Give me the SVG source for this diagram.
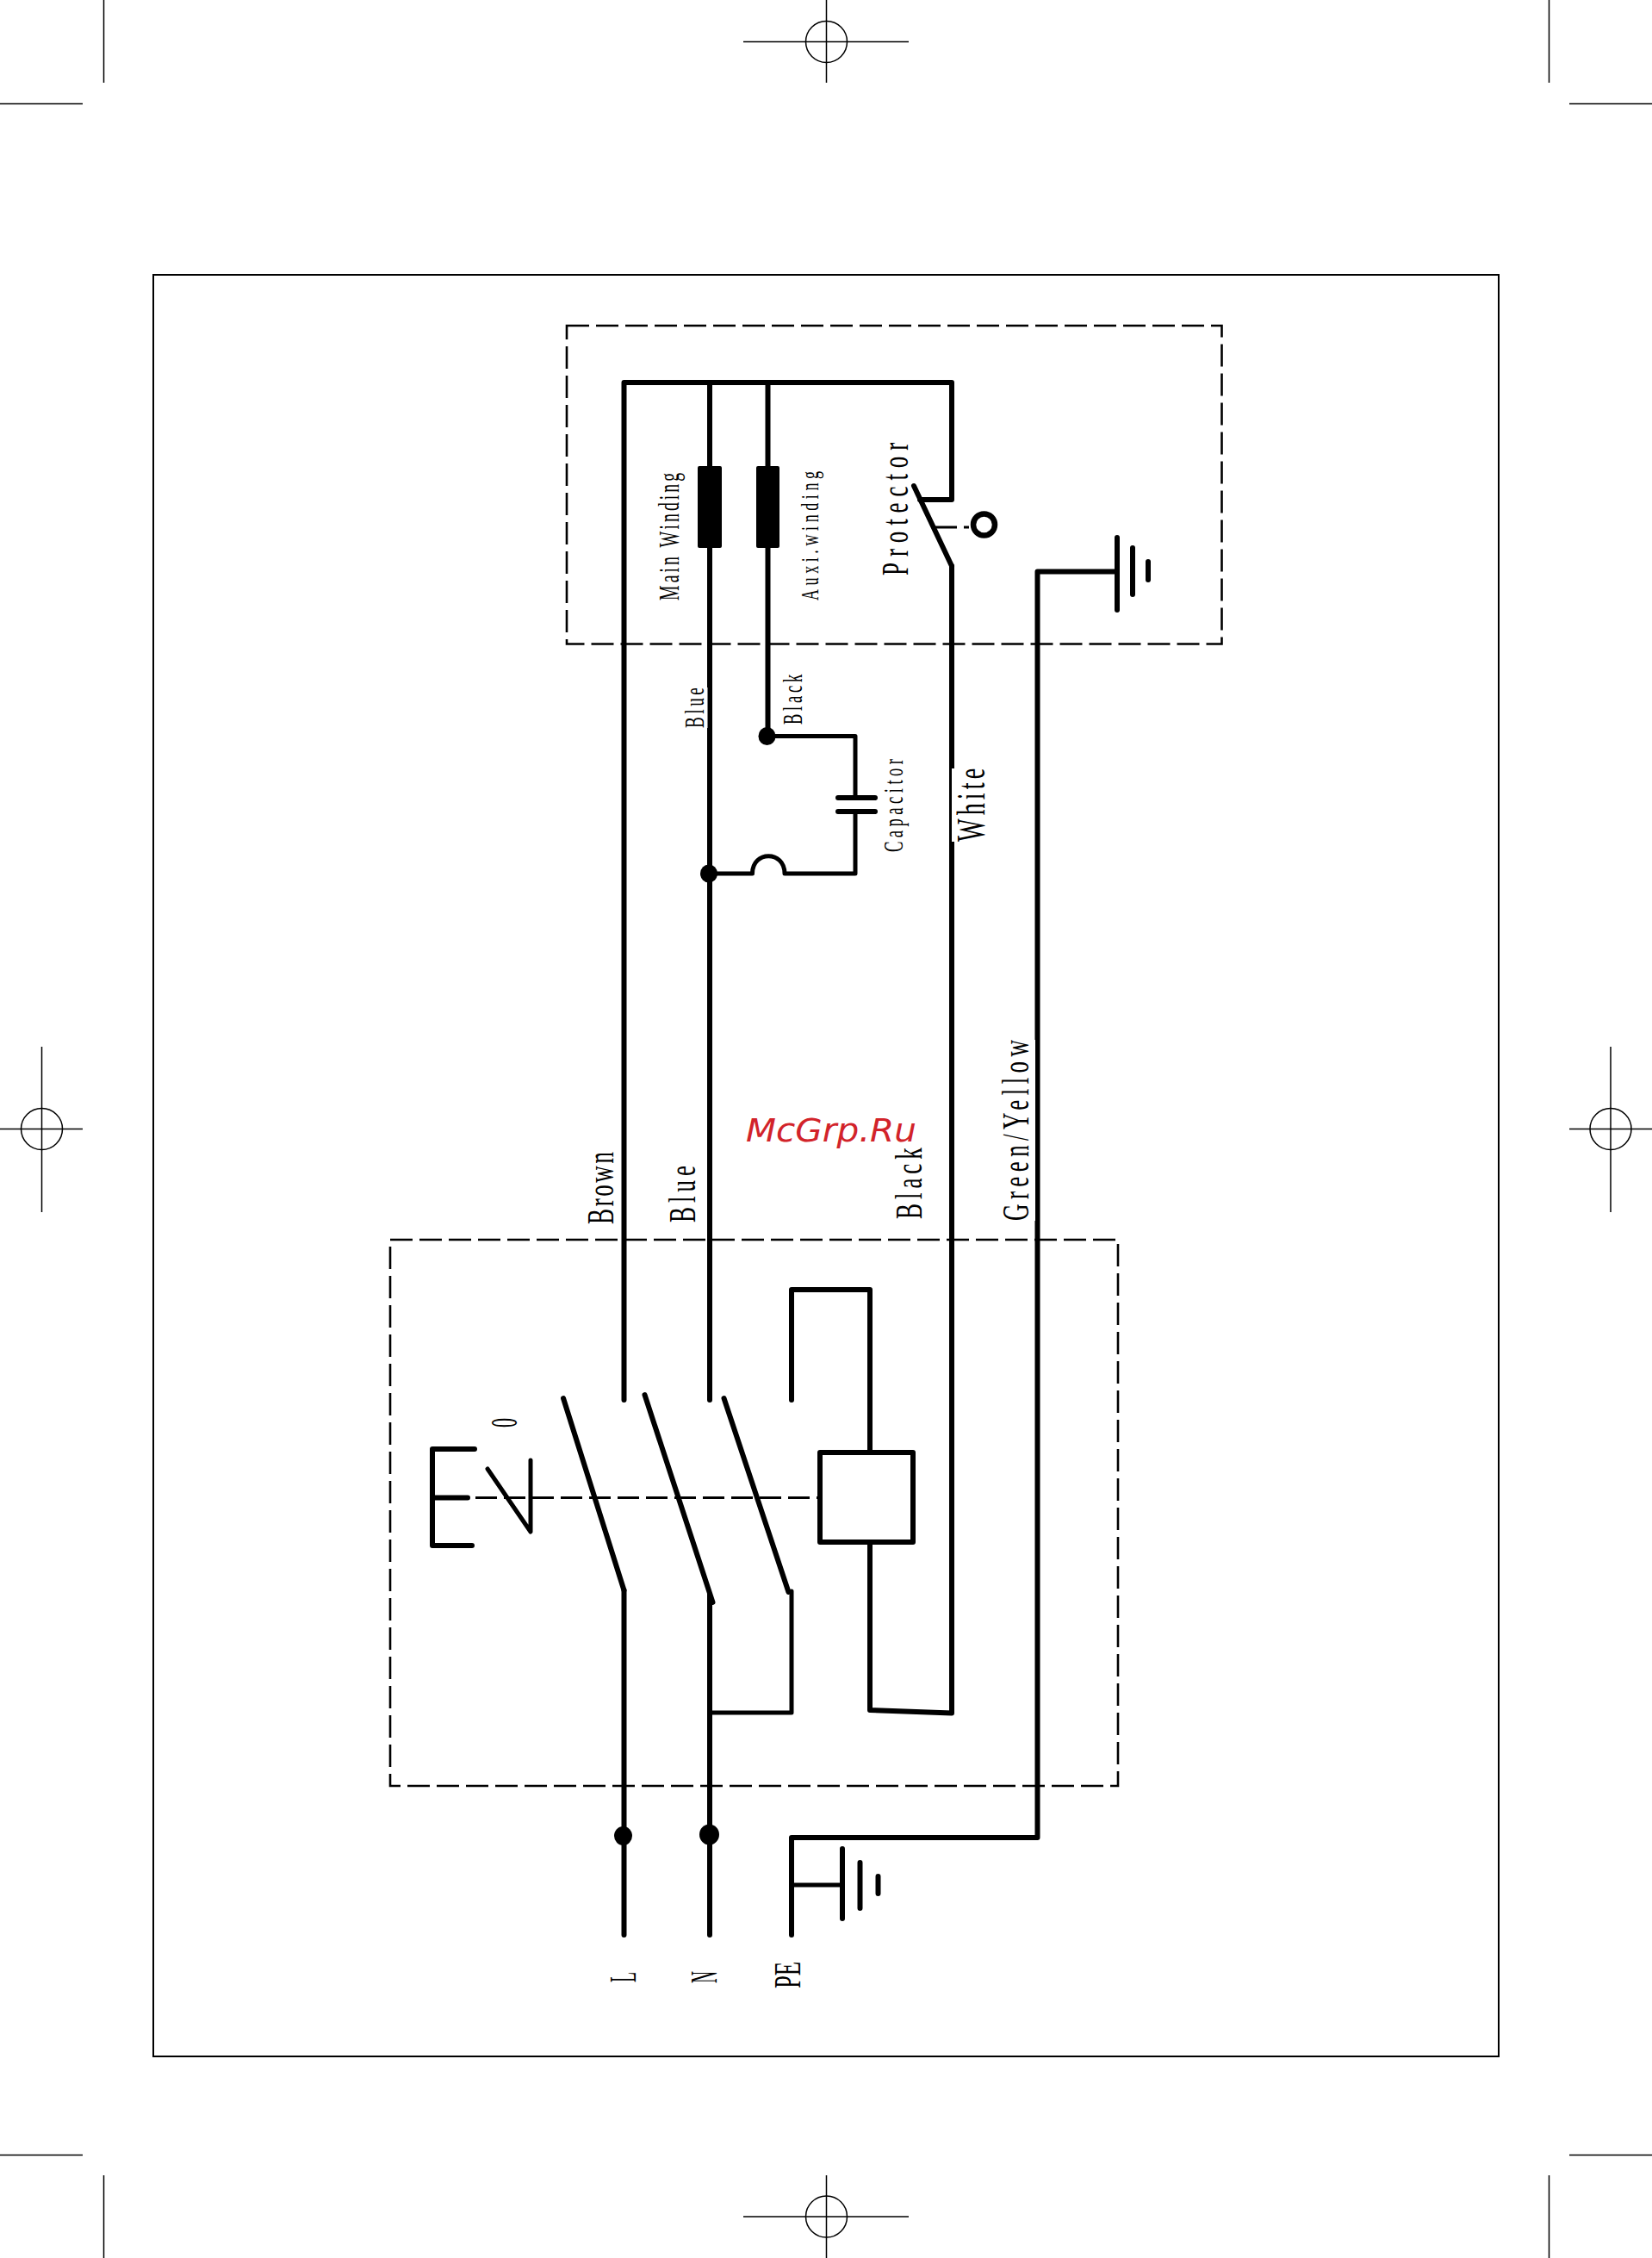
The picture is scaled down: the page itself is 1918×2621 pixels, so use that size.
<svg xmlns="http://www.w3.org/2000/svg" width="1918" height="2621" viewBox="0 0 1918 2621">
<style>
.w{fill:none;stroke:#000;stroke-width:6;stroke-linecap:round;stroke-linejoin:round}
.t{stroke-width:5}
.m{fill:none;stroke:#000;stroke-width:1.5}
.d{fill:none;stroke:#000;stroke-width:2.6;stroke-dasharray:26 8}
.s{font-family:"Liberation Serif",serif;fill:#000}
.k{fill:#000}
</style>
<rect width="1918" height="2621" fill="#fff"/>
<g id="crop-marks">
<path class="m" d="M120.500 0V96M0 120.500H96M1798.500 0V96M1822 120.500H1918M120.500 2525V2621M0 2501.500H96M1798.500 2525V2621M1822 2501.500H1918"/>
<path class="m" d="M863 48.500H1055M959.500 0V96M959.500 2525V2621M863 2573H1055M0 1310.500H96M48.500 1215V1407M1822 1310.500H1918M1870 1215V1407"/>
<circle class="m" cx="959.500" cy="48.500" r="24"/><circle class="m" cx="959.500" cy="2573" r="24"/><circle class="m" cx="48.500" cy="1310.500" r="24"/><circle class="m" cx="1870" cy="1310.500" r="24"/>
</g>
<g id="frame"><rect x="178" y="319" width="1562" height="2068" fill="none" stroke="#000" stroke-width="2"/></g>
<g id="motor-box"><rect class="d" x="658" y="378" width="760.500" height="369.500"/></g>
<g id="switch-box"><rect class="d" x="453" y="1439" width="845" height="634"/></g>
<g id="connectors">
<path class="w" d="M724.500 1625V444H1105V580H1068M824 1625V444M824 1851V2246M891.500 444V854M724.500 1846V2246M919 2246V2133H1204.500V663.500H1297"/>
<path class="w" d="M1105 657V1988.500L1010 1985V1790M1010 1686V1497H919V1625"/>
<path class="w t" d="M919 1847V1988H824M891 854.500H993V926M993 942V1014H911C911 987 873.500 987 873.500 1014H824M919 2188H978"/>
</g>
<g id="main-winding"><rect class="k" x="810" y="541" width="28" height="95" rx="2"/></g>
<g id="aux-winding"><rect class="k" x="878" y="541" width="27" height="95" rx="2"/></g>
<g id="protector">
<path class="w" d="M1061 564L1105 657"/>
<path fill="none" stroke="#000" stroke-width="3" stroke-dasharray="25 8 6 8" d="M1086 612H1128"/>
<circle cx="1142.500" cy="609" r="12.500" fill="none" stroke="#000" stroke-width="6.500"/>
</g>
<g id="ground-motor"><path class="w" d="M1297 624V708"/><path class="w" d="M1315 636V690"/><path class="w" d="M1333 652V673" stroke-width="7"/></g>
<g id="capacitor"><path class="w" d="M973 926H1016M973 942H1016"/></g>
<g id="junctions">
<ellipse class="k" cx="890.500" cy="854.500" rx="10" ry="10.500"/>
<ellipse class="k" cx="823" cy="1014" rx="10" ry="10.500"/>
<ellipse class="k" cx="723.500" cy="2131" rx="10.500" ry="11"/>
<ellipse class="k" cx="823.500" cy="2129.500" rx="11.500" ry="12"/>
</g>
<g id="main-switch">
<path class="w" d="M654 1623L724.500 1846M748.500 1619L827.500 1860M840.500 1623L915.500 1848"/>
<rect x="952" y="1686" width="108" height="104" fill="#fff" stroke="#000" stroke-width="6" stroke-linejoin="round"/>
<path class="w" d="M551 1682H502V1794H548M502 1738.500H543"/>
<path class="w t" d="M566 1705L616 1778V1695"/>
<path fill="none" stroke="#000" stroke-width="3" stroke-dasharray="25 8" d="M552 1738.500H952"/>
</g>
<g id="ground-supply"><path class="w" d="M978 2146V2227M998.500 2162V2215M1019.500 2178V2198"/></g>
<g id="label-masks" fill="#fff">
<rect x="1105" y="892" width="5" height="85"/>
<rect x="819" y="798" width="2.500" height="47"/>
<rect x="1199" y="1207" width="3" height="210"/>
</g>
<g id="labels">
<text class="s" font-size="33" textLength="247" transform="translate(788 697) rotate(-90) scale(.6 1)">Main Winding</text>
<text class="s" font-size="30" textLength="250" transform="translate(950 697) rotate(-90) scale(.6 1)">Auxi.winding</text>
<text class="s" font-size="45" textLength="257" transform="translate(1054 668) rotate(-90) scale(.6 1)">Protector</text>
<text class="s" font-size="32" textLength="78" transform="translate(817 845) rotate(-90) scale(.6 1)">Blue</text>
<text class="s" font-size="31" textLength="97" transform="translate(931 841) rotate(-90) scale(.6 1)">Black</text>
<text class="s" font-size="31" textLength="180" transform="translate(1048 989) rotate(-90) scale(.6 1)">Capacitor</text>
<text class="s" font-size="47" textLength="142" transform="translate(1143 977) rotate(-90) scale(.6 1)">White</text>
<text class="s" font-size="45" textLength="140" transform="translate(711.500 1421) rotate(-90) scale(.6 1)">Brown</text>
<text class="s" font-size="45" textLength="110" transform="translate(806.500 1419) rotate(-90) scale(.6 1)">Blue</text>
<text class="s" font-size="45" textLength="138" transform="translate(1069.500 1415) rotate(-90) scale(.6 1)">Black</text>
<text class="s" font-size="45" textLength="350" transform="translate(1194 1417) rotate(-90) scale(.6 1)">Green/Yellow</text>
<text class="s" font-size="44" textLength="12" lengthAdjust="spacingAndGlyphs" transform="translate(738 2301) rotate(-90)">L</text>
<text class="s" font-size="44" textLength="14" lengthAdjust="spacingAndGlyphs" transform="translate(832 2302) rotate(-90)">N</text>
<text class="s" font-size="44" textLength="31" lengthAdjust="spacingAndGlyphs" transform="translate(929 2308) rotate(-90)">PE</text>
<text class="s" font-size="45" textLength="11" lengthAdjust="spacingAndGlyphs" transform="translate(600 1657) rotate(-90)">0</text>
<text font-family="DejaVu Sans, sans-serif" font-style="italic" font-size="37" fill="#d2232a" x="866" y="1325" textLength="198" lengthAdjust="spacingAndGlyphs">McGrp.Ru</text>
</g>
</svg>
